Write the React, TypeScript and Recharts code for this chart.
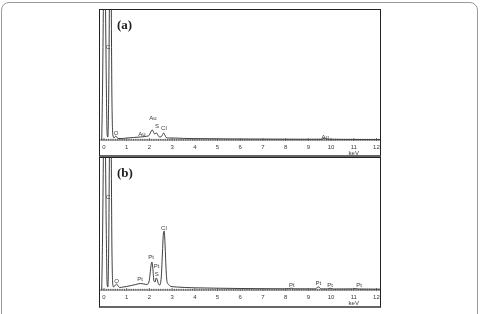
import React from 'react';
import { ComposedChart, Line, Scatter, XAxis, YAxis } from 'recharts';

// Energy (keV) and counts (a.u.)
const energyA = [-0.1, -0.06, -0.02, 0.02, 0.06, 0.1, 0.14, 0.17, 0.21, 0.25, 0.28, 0.31, 0.35, 0.39, 0.44, 0.48, 0.52, 0.56, 0.62, 0.8, 1.0, 1.3, 1.6, 1.8, 1.95, 2.02, 2.08, 2.13, 2.18, 2.23, 2.27, 2.32, 2.37, 2.45, 2.53, 2.58, 2.63, 2.68, 2.74, 2.85, 3.0, 3.5, 4.0, 5.0, 6.0, 7.0, 8.0, 9.0, 9.6, 9.71, 9.82, 10.5, 11.5, 12.2];
const countsA = [0, 60, 150, 220, 150, 60, 5, 3, 50, 170, 220, 170, 40, 5, 2, 3, 4, 3, 1.5, 1.5, 2, 2.5, 3, 3.5, 4, 6, 9, 10, 8, 6, 6.5, 7, 5, 3, 3.5, 5.5, 7, 5, 2.5, 2, 2, 1.6, 1.4, 1.2, 1, 0.9, 0.8, 0.7, 0.8, 1.8, 0.8, 0.6, 0.5, 0.5];

const energyB = [-0.1, -0.06, -0.02, 0.02, 0.06, 0.1, 0.14, 0.17, 0.21, 0.25, 0.28, 0.31, 0.35, 0.39, 0.42, 0.5, 0.56, 0.62, 0.7, 0.85, 1.0, 1.2, 1.4, 1.6, 1.75, 1.9, 1.98, 2.03, 2.08, 2.11, 2.15, 2.2, 2.25, 2.3, 2.35, 2.4, 2.46, 2.52, 2.57, 2.62, 2.65, 2.69, 2.74, 2.79, 2.85, 2.95, 3.2, 3.6, 4.0, 5.0, 6.0, 7.0, 8.0, 8.27, 8.4, 9.3, 9.44, 9.58, 9.85, 9.96, 10.1, 10.95, 11.07, 11.2, 12.2];
const countsB = [0, 60, 150, 220, 150, 60, 5, 3, 50, 170, 220, 170, 40, 5, 3, 5, 6, 4, 2.5, 3, 3.5, 4.5, 5.5, 6.5, 6, 5.5, 8, 16, 26, 28, 22, 9, 8, 12, 10, 6, 5, 12, 35, 57, 59, 45, 18, 7, 5.5, 3.5, 3, 2.5, 2.2, 1.8, 1.5, 1.3, 1.2, 1.8, 1.2, 1.1, 3, 1.1, 1.1, 1.8, 1, 1.1, 1.5, 1, 0.8];

// Peak annotations: label, energy (keV), label height (counts)
const labelsA = ['C', 'O', 'Au', 'Au', 'S', 'Cl', 'Au'];
const labelEA = [0.18, 0.53, 1.67, 2.16, 2.33, 2.64, 9.74];
const labelHA = [93, 7, 6, 22, 14, 12, 3.5];

const labelsB = ['C', 'O', 'Pt', 'Pt', 'Pt', 'S', 'Cl', 'Pt', 'Pt', 'Pt', 'Pt'];
const labelEB = [0.18, 0.56, 1.59, 2.07, 2.32, 2.32, 2.64, 8.27, 9.44, 9.96, 11.23];
const labelHB = [93, 9, 11, 33, 24, 16, 62, 5, 6.7, 5, 5];

const majorTicks = [0, 1, 2, 3, 4, 5, 6, 7, 8, 9, 10, 11, 12];
const minorTicks: number[] = [];
for (let i = -2; i <= 121; i++) minorTicks.push(i / 10);

const LINE = '#2a2a2a';
const TXT = '#3a3a3a';
const SANS = 'Liberation Sans, Arial, sans-serif';

const TickMark = (props: any) => {
  const { x, y, payload } = props;
  const v = payload.value;
  const isMajor = majorTicks.some((t) => Math.abs(t - v) < 1e-6);
  return (
    <g>
      <line x1={x} x2={x} y1={y - (isMajor ? 2 : 1.2)} y2={y + (isMajor ? 1 : 0.6)} stroke="#444" strokeWidth={0.8} />
      {isMajor ? (
        <text x={x} y={y + 8.5} fontSize={6} fill={TXT} textAnchor="middle" fontFamily={SANS}>
          {String(Math.round(v))}
        </text>
      ) : null}
      {isMajor && Math.round(v) === 11 ? (
        <text x={x} y={y + 15} fontSize={6} fill={TXT} textAnchor="middle" fontFamily={SANS}>
          keV
        </text>
      ) : null}
    </g>
  );
};

const LabelShape = (props: any) => {
  const { cx, cy, payload } = props;
  return (
    <text x={cx} y={cy} fontSize={6} fill={TXT} textAnchor="middle" dominantBaseline="central" fontFamily={SANS}>
      {payload.label}
    </text>
  );
};

type PanelProps = {
  top: number;
  height: number;
  plotHeight: number;
  energy: number[];
  counts: number[];
  labels: string[];
  labelE: number[];
  labelH: number[];
  tag: string;
};

const Panel = ({ top, height, plotHeight, energy, counts, labels, labelE, labelH, tag }: PanelProps) => {
  const data = energy.map((e, i) => ({ e, c: counts[i] }));
  const ann = labels.map((label, i) => ({ e: labelE[i], c: labelH[i], label }));
  return (
    <div style={{ position: 'absolute', left: 99, top, width: 282, height }}>
      <ComposedChart width={282} height={height} margin={{ top: 0, right: 0, bottom: 0, left: 0 }}>
        <XAxis
          type="number"
          dataKey="e"
          domain={[-0.22, 12.2]}
          allowDataOverflow
          ticks={minorTicks}
          interval={0}
          tickSize={0}
          tickMargin={0}
          tickLine={false}
          axisLine={{ stroke: '#444', strokeWidth: 0.8 }}
          tick={<TickMark />}
          height={height - plotHeight}
        />
        <YAxis type="number" dataKey="c" domain={[0, plotHeight]} allowDataOverflow hide />
        <Line
          data={data}
          dataKey="c"
          type="monotone"
          stroke={LINE}
          strokeWidth={0.9}
          dot={false}
          isAnimationActive={false}
        />
        <Scatter data={ann} dataKey="c" shape={<LabelShape />} isAnimationActive={false} />
      </ComposedChart>
      <div
        style={{
          position: 'absolute',
          left: 18,
          top: 9,
          fontFamily: 'Liberation Serif, Times New Roman, serif',
          fontWeight: 'bold',
          fontSize: 13,
          color: '#222',
          lineHeight: '13px',
        }}
      >
        {tag}
      </div>
      <div
        style={{
          position: 'absolute',
          left: 0,
          top: 0,
          width: 282,
          height,
          boxSizing: 'border-box',
          borderTop: '1.5px solid #222',
          borderLeft: '1.5px solid #222',
          borderRight: '1.5px solid #222',
          borderBottom: '2px solid #666',
          pointerEvents: 'none',
        }}
      />
    </div>
  );
};

export default function App() {
  return (
    <div
      style={{
        position: 'absolute',
        left: 0,
        top: 0,
        width: 482,
        height: 314,
        overflow: 'hidden',
        background: '#fff',
        willChange: 'transform',
      }}
    >
      <div
        style={{
          position: 'absolute',
          left: 1,
          top: 2,
          width: 477,
          height: 340,
          border: '1px solid #9a9a9a',
          borderRadius: 8,
          boxSizing: 'border-box',
        }}
      />
      <Panel top={9} height={148} plotHeight={131} energy={energyA} counts={countsA} labels={labelsA} labelE={labelEA} labelH={labelHA} tag="(a)" />
      <Panel top={157} height={151} plotHeight={133} energy={energyB} counts={countsB} labels={labelsB} labelE={labelEB} labelH={labelHB} tag="(b)" />
    </div>
  );
}
